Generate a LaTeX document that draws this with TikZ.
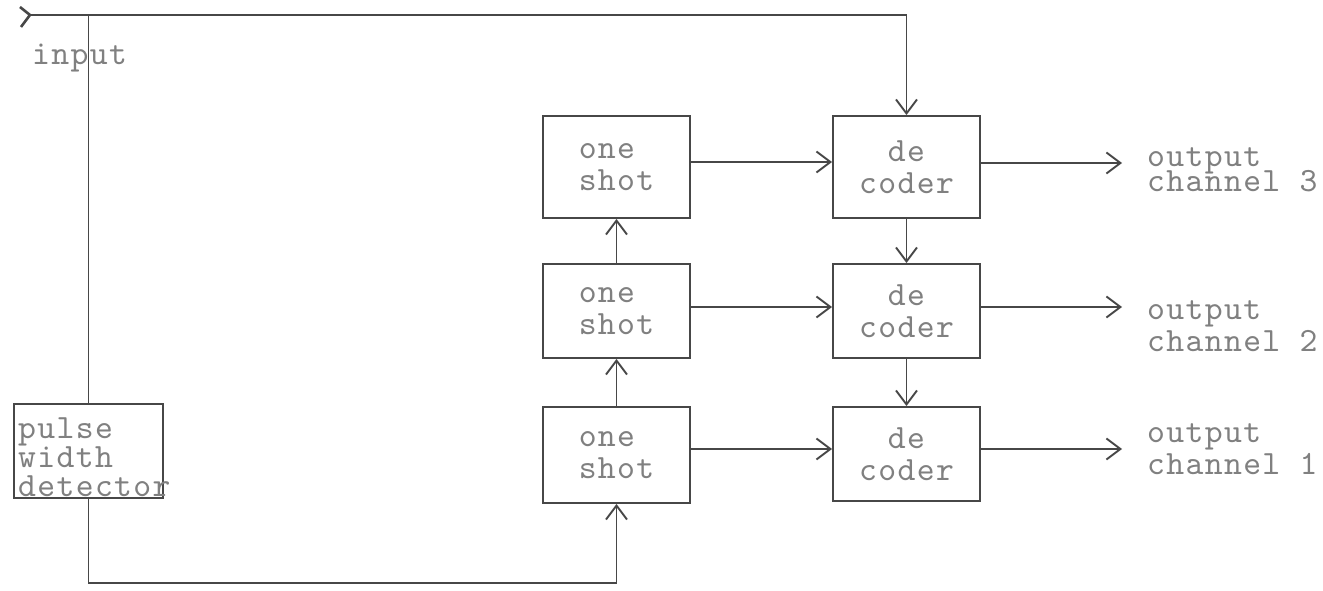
\documentclass[tikz,border=0pt]{standalone}
\usepackage{fontspec}
\usetikzlibrary{arrows.meta}
\newfontfamily\twfam[LetterSpace=4]{lmmono10-regular.otf}
\newcommand{\twfont}[1]{\twfam\fontsize{34}{#1}\selectfont}
\tikzset{
  ln/.style={draw=black!72, line width=1.9pt},
  arr/.style={ln, -{Straight Barb[length=14pt,width=21pt]}},
  txt/.style={font=\twfont{32}, text=black!50},
  blk/.style={ln, txt, minimum width=147pt, inner sep=0pt},
  lbl/.style={txt, inner sep=0pt, align=left}
}
\begin{document}
\begin{tikzpicture}[x=1pt,y=-1pt]
\fill[white] (0,0) rectangle (1323,591);
\useasboundingbox (0,0) rectangle (1323,591);

% boxes
\node[blk, align=left, minimum height=102pt] (os3) at (616.5,167) {one\\shot};
\node[blk, align=left, minimum height=94pt]  (os2) at (616.5,311) {one\\shot};
\node[blk, align=left, minimum height=96pt]  (os1) at (616.5,455) {one\\shot};
\node[blk, align=center, minimum height=102pt] (dec3) at (906.5,167) {de\\coder};
\node[blk, align=center, minimum height=94pt]  (dec2) at (906.5,311) {de\\coder};
\node[blk, align=center, minimum height=94pt]  (dec1) at (906.5,454) {de\\coder};
\node[ln, minimum width=149pt, minimum height=94pt, inner sep=0pt] (pwd) at (88.5,451) {};
\node[lbl, anchor=south west, font=\twfont{29}] (pwdt) at (18,497) {pulse\\width\\detector};

% input
\coordinate (inp) at (30,15);
\draw[ln, line width=2.6pt] ([shift={(-10,-8)}]inp) -- (inp) -- ([shift={(-9,12)}]inp);
\node[txt, anchor=base west, inner sep=0pt] (inlbl) at (32,65) {input};
\draw[arr] (inp) -| (dec3.north);
\draw[ln] (pwd.north) -- (pwd.north |- inp);

% detector to first one shot
\coordinate (bl) at (88.5,583);
\draw[arr] (pwd.south) -- (bl) -| (os1.south);

% one shot chain
\draw[arr] (os1.north) -- (os2.south);
\draw[arr] (os2.north) -- (os3.south);

% decoder chain
\draw[arr] (dec3.south) -- (dec2.north);
\draw[arr] (dec2.south) -- (dec1.north);

% one shot to decoder
\draw[arr] ([yshift=5pt]os3.east) -- ([yshift=5pt]os3.east -| dec3.west);
\draw[arr] ([yshift=4pt]os2.east) -- ([yshift=4pt]os2.east -| dec2.west);
\draw[arr] ([yshift=6pt]os1.east) -- ([yshift=6pt]os1.east -| dec1.west);

% outputs
\coordinate (o3) at (1122,163);
\coordinate (o2) at (1122,307);
\coordinate (o1) at (1122,449);
\draw[arr] (dec3.east |- o3) -- (o3);
\draw[arr] (dec2.east |- o2) -- (o2);
\draw[arr] (dec1.east |- o1) -- (o1);
\node[lbl, anchor=south west] (out3) at (1147,192) {output\\[-7pt]channel 3};
\node[lbl, anchor=south west] (out2) at (1147,352) {output\\channel 2};
\node[lbl, anchor=south west] (out1) at (1147,475) {output\\channel 1};
\end{tikzpicture}
\end{document}
